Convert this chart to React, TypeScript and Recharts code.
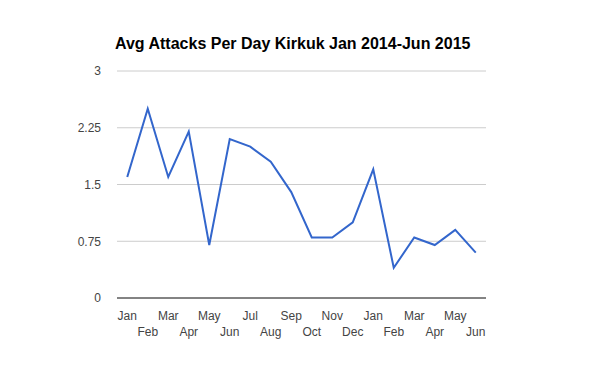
import { LineChart, Line, XAxis, YAxis, CartesianGrid } from 'recharts'

const months = [
  'Jan', 'Feb', 'Mar', 'Apr', 'May', 'Jun', 'Jul', 'Aug', 'Sep',
  'Oct', 'Nov', 'Dec', 'Jan', 'Feb', 'Mar', 'Apr', 'May', 'Jun',
]
const attacks = [1.6, 2.5, 1.6, 2.2, 0.7, 2.1, 2.0, 1.8, 1.4, 0.8, 0.8, 1.0, 1.7, 0.4, 0.8, 0.7, 0.9, 0.6]
const yTicks = [0, 0.75, 1.5, 2.25, 3]

const data = months.map((m, i) => ({ key: `${m}-${i}`, month: m, value: attacks[i] }))

const font = '"Liberation Sans", Arial, sans-serif'

// google-style staggered labels: odd months on a second row
function MonthTick({ x, y, payload, index }: any) {
  const i = payload?.index ?? index
  const label = months[i] ?? ''
  return (
    <text
      x={x}
      y={y + (i % 2 === 0 ? 14 : 30)}
      textAnchor="middle"
      fontSize={12}
      fontFamily={font}
      fill="#444"
    >
      {label}
    </text>
  )
}

export default function App() {
  return (
    <div style={{ position: 'absolute', left: 0, top: 0, width: 600, height: 371, background: '#fff' }}>
      <div
        style={{
          position: 'absolute',
          left: 115,
          top: 35,
          fontFamily: font,
          fontWeight: 'bold',
          fontSize: 16,
          color: '#000',
          whiteSpace: 'nowrap',
        }}
      >
        Avg Attacks Per Day Kirkuk Jan 2014-Jun 2015
      </div>
      <LineChart width={600} height={371} data={data} margin={{ top: 71, right: 114, left: 0, bottom: 0 }}>
        <CartesianGrid vertical={false} stroke="#ccc" />
        <XAxis
          dataKey="key"
          scale="band"
          height={73}
          tick={<MonthTick />}
          tickLine={false}
          axisLine={{ stroke: '#222' }}
          interval={0}
        />
        <YAxis
          width={117}
          domain={[0, 3]}
          ticks={yTicks}
          tickLine={false}
          axisLine={false}
          tickSize={0}
          tickMargin={16}
          tick={{ fontSize: 12, fill: '#444', fontFamily: font }}
        />
        <Line
          type="linear"
          dataKey="value"
          stroke="#3366cc"
          strokeWidth={2}
          dot={false}
          isAnimationActive={false}
        />
      </LineChart>
    </div>
  )
}
